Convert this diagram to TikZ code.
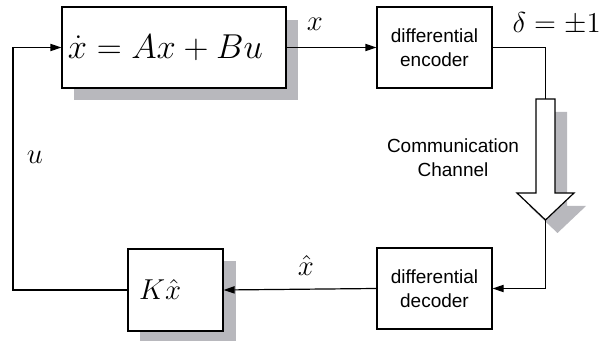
\documentclass[tikz,border=0pt]{standalone}
\usepackage[no-math]{fontspec}
\newfontfamily\helv{Liberation Sans}
\usetikzlibrary{arrows.meta}
\definecolor{shadowgray}{RGB}{184,184,189}
\begin{document}
\begin{tikzpicture}[x=0.5pt,y=-0.5pt,
  line width=0.6pt,
  arr/.style={-{Triangle[length=5.5pt,width=3.6pt]}},
  box/.style={draw, fill=white, inner sep=0pt},
  shadowfill/.style={fill=shadowgray},
  sans/.style={font=\helv\fontsize{9.5}{12}\selectfont, align=center},
  lbl/.style={font=\fontsize{14}{16}\selectfont, inner sep=0pt}]
\useasboundingbox (0,0) rectangle (600,341);
% shadows
\fill[shadowfill] (74,20) rectangle (298,100);
\fill[shadowfill] (140,261) rectangle (236,341);
\begin{scope}[shift={(12,13)}]
\fill[shadowfill] (536,99) -- (555,99) -- (555,193) -- (574,193) -- (545.5,220) -- (517,193) -- (536,193) -- cycle;
\end{scope}
% plant
\node[box, minimum width=112pt, minimum height=40.5pt, text width=106pt, align=left, inner xsep=3pt,
  font=\fontsize{16}{18}\selectfont] (plant) at (174,47.5) {$\dot x = Ax + Bu$};
% encoder
\node[box, sans, minimum width=57.5pt, minimum height=40.5pt] (enc) at (434.5,47.5) {differential\\encoder};
% decoder
\node[box, sans, minimum width=57.5pt, minimum height=40.5pt] (dec) at (434.5,288.5) {differential\\decoder};
% controller
\node[box, minimum width=47.5pt, minimum height=41pt, text width=36.5pt, align=left, inner xsep=5.5pt,
  font=\fontsize{15}{17}\selectfont] (kbox) at (175.5,290) {$K\hat x$};
% coordinates
\coordinate (ul) at (13,47.5);
\coordinate (ll) at (13,290);
\coordinate (chtop) at (545.5,99);
\coordinate (chtip) at (545.5,220);
% channel arrow
\filldraw[fill=white] (536,99) -- (555,99) -- (555,193) -- (574,193) -- (chtip) -- (517,193) -- (536,193) -- cycle;
% connectors
\draw[arr] (plant.east) -- (enc.west);
\draw (enc.east) -| (chtop);
\draw[arr] (chtip) |- (dec.east);
\draw[arr] (dec.west) -- (kbox.east);
\draw[arr] (kbox.west) -- (ll) -- (ul) -- (plant.west);
% labels
\node[lbl] (lx) at (315,24) {$x$};
\node[lbl, anchor=west] (ld) at (512,24) {$\delta = \pm 1$};
\node[lbl] (lu) at (35,157) {$u$};
\node[lbl] (lxh) at (306,266) {$\hat x$};
\node[sans, inner sep=0pt] (lc) at (453,158) {Communication\\Channel};
\end{tikzpicture}
\end{document}
